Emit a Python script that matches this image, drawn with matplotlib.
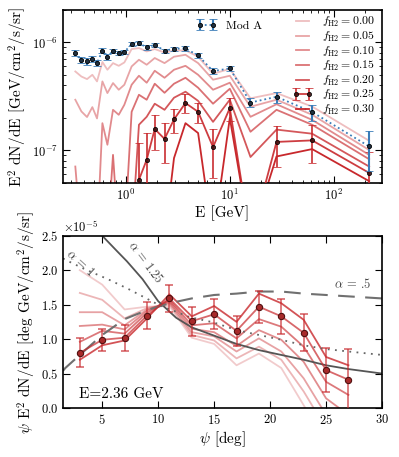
import matplotlib
matplotlib.use("Agg")
import matplotlib.pyplot as plt
import numpy as np

plt.rcParams['font.family'] = 'serif'
plt.rcParams['font.serif'] = ['cmr10']
plt.rcParams['mathtext.fontset'] = 'cm'
plt.rcParams['axes.unicode_minus'] = False
plt.rcParams['axes.formatter.use_mathtext'] = True

# ---- top panel: spectra (values in units of 1e-7 GeV/cm2/s/sr) ----
energy = [0.328, 0.375, 0.425, 0.478, 0.53, 0.597, 0.667, 0.755, 0.857, 0.97,
          1.14, 1.34, 1.59, 1.90, 2.36, 2.91, 3.75, 4.96, 6.9, 10.0,
          15.8, 28.1, 61.8, 218.0]
modA = [7.98, 6.92, 6.67, 7.02, 6.45, 8.38, 7.32, 8.38, 7.98, 8.15,
        9.67, 9.87, 8.99, 9.52, 8.38, 8.74, 8.80, 7.58, 5.43, 5.75,
        2.78, 3.14, 2.27, 1.09]
modA_err = [0.45, 0.45, 0.45, 0.45, 0.45, 0.45, 0.45, 0.4, 0.4, 0.4,
            0.4, 0.4, 0.4, 0.4, 0.4, 0.4, 0.4, 0.35, 0.35, 0.33,
            0.28, 0.37, 0.38, 0.44]

f_vals = ['0.00', '0.05', '0.10', '0.15', '0.20', '0.25', '0.30']
spec_f000 = [5.39, 4.84, 4.58, 5.02, 4.36, 6.59, 5.59, 6.44, 6.08, 6.53,
             8.69, 8.87, 8.26, 8.69, 8.07, 8.38, 8.47, 7.38, 5.13, 5.70,
             3.04, 3.40, 2.55, 1.23]
spec_f005 = [2.95, 2.30, 2.04, 2.52, 1.98, 4.36, 3.40, 4.21, 3.65, 4.06,
             6.00, 6.92, 6.22, 7.18, 6.44, 7.38, 7.69, 6.44, 4.52, 4.92,
             2.54, 2.95, 2.14, 1.01]
spec_f010 = [0.71, 0.15, 0.15, 0.15, 0.15, 1.79, 1.13, 2.38, 2.14, 2.65,
             4.06, 4.92, 4.24, 5.47, 4.71, 5.59, 6.08, 5.02, 3.65, 4.24,
             2.05, 2.68, 1.92, 0.91]
spec_f015 = [0.15, 0.15, 0.15, 0.15, 0.15, 0.15, 0.15, 0.91, 0.15, 0.15,
             2.28, 3.28, 2.95, 4.15, 3.42, 4.15, 4.71, 3.81, 2.71, 3.73,
             1.49, 2.38, 1.73, 0.83]
spec_f020 = [0.15, 0.15, 0.15, 0.15, 0.15, 0.15, 0.15, 0.15, 0.15, 0.15,
             0.15, 1.73, 2.05, 2.71, 2.38, 3.08, 3.50, 2.88, 1.84, 2.95,
             0.87, 1.56, 1.43, 0.71]
spec_f025 = [0.15, 0.15, 0.15, 0.15, 0.15, 0.15, 0.15, 0.15, 0.15, 0.15,
             0.15, 0.535, 0.82, 1.58, 1.28, 1.94, 2.75, 2.28, 1.075, 2.47,
             0.15, 1.20, 1.24, 0.62]
spec_f025_err = [0, 0, 0, 0, 0, 0, 0, 0, 0, 0,
                 0, 0.64, 0.63, 0.56, 0.52, 0.5, 0.55, 0.5, 0.52, 0.6,
                 0, 0.49, 0.47, 0.35]
spec_f030 = [0.15, 0.15, 0.15, 0.15, 0.15, 0.15, 0.15, 0.15, 0.15, 0.15,
             0.15, 0.15, 0.15, 0.15, 0.155, 0.85, 1.79, 1.45, 0.15, 2.0,
             0.15, 0.88, 1.03, 0.52]

# ---- bottom panel: latitude profile at E = 2.36 GeV (units of 1e-5) ----
psi = [3, 5, 7, 9, 11, 13, 15, 17, 19, 21, 23, 25, 27]
prof_f000 = [2.00, 1.79, 1.43, 1.47, 1.48, 1.02, 0.93, 0.62, 0.79, 0.58, 0.04, -0.50, -0.75]
prof_f005 = [1.67, 1.57, 1.30, 1.45, 1.51, 1.06, 0.98, 0.72, 0.89, 0.70, 0.24, -0.30, -0.55]
prof_f010 = [1.39, 1.39, 1.20, 1.43, 1.53, 1.10, 1.04, 0.82, 1.01, 0.82, 0.43, -0.10, -0.35]
prof_f015 = [1.19, 1.21, 1.14, 1.41, 1.55, 1.15, 1.10, 0.90, 1.13, 0.99, 0.67, 0.14, -0.10]
prof_f020 = [0.96, 1.12, 1.08, 1.38, 1.57, 1.20, 1.23, 1.01, 1.29, 1.18, 0.89, 0.38, 0.19]
prof_f025 = [0.80, 0.99, 1.02, 1.34, 1.59, 1.26, 1.36, 1.12, 1.47, 1.33, 1.09, 0.55, 0.41]
prof_f025_err = [0.21, 0.16, 0.19, 0.20, 0.20, 0.21, 0.22, 0.22, 0.23, 0.25, 0.27, 0.32, 0.45]
prof_f030 = [0.70, 0.91, 0.98, 1.30, 1.65, 1.33, 1.48, 1.25, 1.66, 1.52, 1.28, 0.74, 0.62]

# model curves
psi_a125 = [4.8, 5.0, 6.3, 7.2, 8.6, 10.0, 11.6, 13.0, 15.0, 17.0, 19.0, 21.0, 23.0, 25.0, 27.0, 30.0]
val_a125 = [2.58, 2.50, 2.28, 2.13, 1.87, 1.55, 1.31, 1.17, 1.05, 0.93, 0.84, 0.77, 0.70, 0.62, 0.565, 0.50]
psi_a1 = [1.5, 2.1, 3.5, 5.5, 7.3, 8.6, 10.0, 12.8, 15.0, 17.0, 19.0, 21.0, 23.0, 25.0, 27.0, 30.0]
val_a1 = [2.17, 2.12, 2.01, 1.87, 1.73, 1.62, 1.50, 1.32, 1.24, 1.13, 1.06, 0.99, 0.91, 0.855, 0.82, 0.77]
psi_a05 = [1.5, 1.7, 3.0, 5.0, 7.0, 9.0, 11.0, 13.0, 15.0, 17.0, 19.0, 21.0, 23.0, 25.0, 27.0, 30.0]
val_a05 = [0.54, 0.58, 0.77, 1.06, 1.29, 1.42, 1.52, 1.59, 1.64, 1.66, 1.69, 1.69, 1.66, 1.64, 1.62, 1.59]

red = '#c8282c'
alphas = [0.3, 0.42, 0.54, 0.66, 0.78, 0.9, 1.0]

fig = plt.figure(figsize=(3.99, 4.57), dpi=100)
ax1 = fig.add_axes([0.158, 0.5996, 0.7995, 0.3786])
ax2 = fig.add_axes([0.158, 0.1072, 0.7995, 0.377])

# top panel
E = np.array(energy)
sc = 1e-7
top_lines = [spec_f000, spec_f005, spec_f010, spec_f015, spec_f020, spec_f025, spec_f030]
handles = []
for i, (fv, s) in enumerate(zip(f_vals, top_lines)):
    lab = r'$f_{\rm H2} = %s$' % fv
    if fv == '0.25':
        h = ax1.errorbar(E, np.array(s) * sc, yerr=np.array(spec_f025_err) * sc,
                         color=red, alpha=alphas[i], lw=1.3, elinewidth=1.3, capsize=3,
                         capthick=1.3, marker='o', ms=3, mfc='#401010', mec='k',
                         mew=0.6, label=lab, zorder=3)
    else:
        h, = ax1.plot(E, np.array(s) * sc, color=red, alpha=alphas[i], lw=1.3, label=lab)
    handles.append(h)

hA = ax1.errorbar(E, np.array(modA) * sc, yerr=np.array(modA_err) * sc, color='#3a7cb8',
                  ls=':', lw=1.3, elinewidth=1.5, capsize=3, capthick=1.5, marker='o',
                  ms=3, mfc='#203040', mec='k', mew=0.6, label='Mod A', zorder=4)

ax1.set_xscale('log')
ax1.set_yscale('log')
ax1.set_xlim(0.25, 290)
ax1.set_ylim(5e-8, 2e-6)
ax1.set_xlabel('E [GeV]', fontsize=11, labelpad=2)
ax1.set_ylabel(r'E$^2$ dN/dE [GeV/cm$^2$/s/sr]', fontsize=11, labelpad=2)

leg1 = ax1.legend(handles=handles, loc='upper right', bbox_to_anchor=(1.0, 1.01),
                  frameon=False, fontsize=8.5, labelspacing=0.05, handlelength=1.7,
                  numpoints=2, borderaxespad=0.2, handletextpad=0.8)
ax1.add_artist(leg1)
ax1.legend(handles=[hA], loc='center', bbox_to_anchor=(0.52, 0.91), frameon=False,
           fontsize=8.5, numpoints=2, handlelength=1.7)

# bottom panel
ps = 1e-5
prof_lines = [prof_f000, prof_f005, prof_f010, prof_f015, prof_f020, prof_f025, prof_f030]
for i, p in enumerate(prof_lines):
    if i == 5:
        continue
    ax2.plot(psi, np.array(p) * ps, color=red, alpha=alphas[i] * 0.8, lw=1.3)
ax2.errorbar(psi, np.array(prof_f025) * ps, yerr=np.array(prof_f025_err) * ps,
             color=red, alpha=0.7, lw=1.3, elinewidth=1.2, capsize=3, capthick=1.2,
             zorder=3)
ax2.plot(psi, np.array(prof_f025) * ps, ls='none', marker='o', ms=4.5,
         mfc='#a82a2a', mec='#501010', mew=0.8, zorder=4)

ax2.plot(psi_a125, np.array(val_a125) * ps, color='#555555', lw=1.3)
ax2.plot(psi_a1, np.array(val_a1) * ps, color='#666666', lw=1.3, ls=(0, (1, 3)))
ax2.plot(psi_a05, np.array(val_a05) * ps, color='#707070', lw=1.5, ls=(0, (8, 5)))

ax2.text(8.9, 2.12e-5, r'$\alpha$ = 1.25', rotation=-53, fontsize=9, color='#444444',
         ha='center', va='center')
ax2.text(3.0, 2.1e-5, r'$\alpha$ = 1', rotation=-42, fontsize=9, color='#444444',
         ha='center', va='center')
ax2.text(27.4, 1.8e-5, r'$\alpha$ = .5', fontsize=9, color='#444444',
         ha='center', va='center')
ax2.text(0.05, 0.06, 'E=2.36 GeV', transform=ax2.transAxes, fontsize=11)

ax2.set_xlim(1.5, 30)
ax2.set_ylim(0, 2.5e-5)
ax2.set_xticks([5, 10, 15, 20, 25, 30])
ax2.set_yticks([0, 0.5e-5, 1e-5, 1.5e-5, 2e-5, 2.5e-5])
ax2.set_xlabel(r'$\psi$ [deg]', fontsize=11, labelpad=2)
ax2.set_ylabel(r'$\psi$ E$^2$ dN/dE [deg GeV/cm$^2$/s/sr]', fontsize=11, labelpad=2)

for ax in (ax1, ax2):
    ax.tick_params(which='both', direction='in', top=True, right=True, labelsize=9)
    ax.tick_params(which='major', length=5, width=0.8)
    ax.tick_params(which='minor', length=2.5, width=0.6)
    for sp in ax.spines.values():
        sp.set_linewidth(1.2)
ax2.yaxis.get_offset_text().set_fontsize(9)

fig.savefig('out.png', dpi=100)
